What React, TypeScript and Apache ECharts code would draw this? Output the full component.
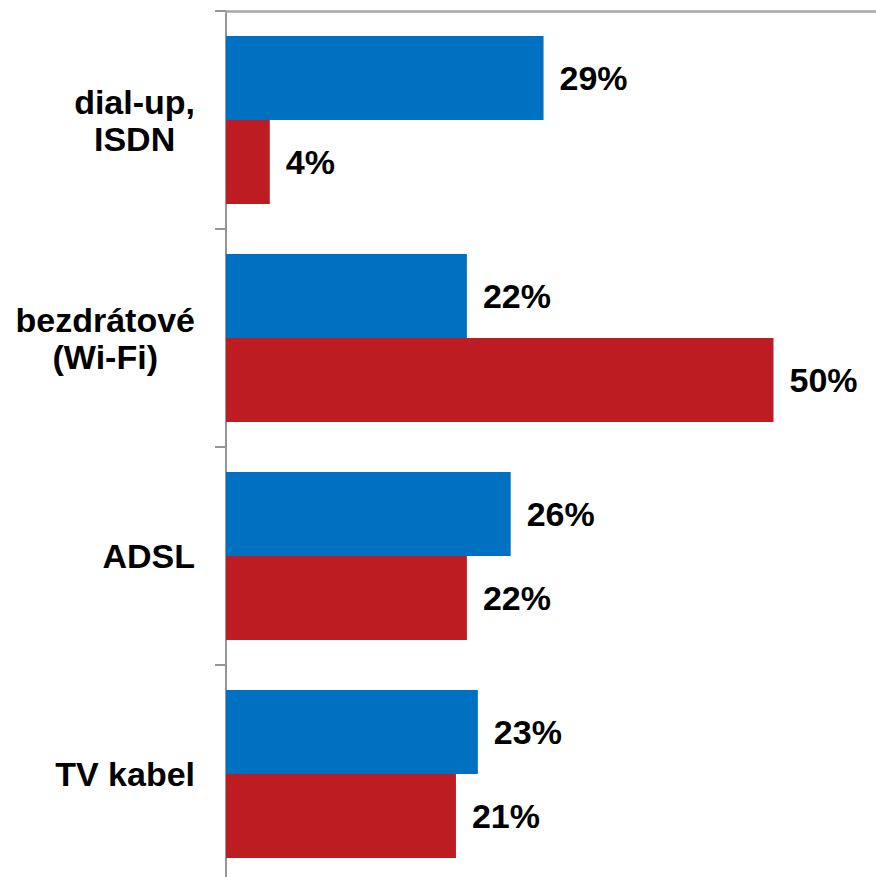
import React, { useEffect, useRef } from "react";
import * as echarts from "echarts";

const categories = ["dial-up,\nISDN", "bezdrátové\n(Wi-Fi)", "ADSL", "TV kabel"];
const blueValues = [29, 22, 26, 23];
const redValues = [4, 50, 22, 21];

const FONT = '"Liberation Sans", Arial, sans-serif';

export default function App() {
  const ref = useRef<HTMLDivElement>(null);
  useEffect(() => {
    if (!ref.current) return;
    const chart = echarts.init(ref.current, undefined, { renderer: "svg" });
    const labelCommon = {
      show: true,
      position: "right" as const,
      distance: 16,
      formatter: "{c}%",
      color: "#000",
      fontFamily: FONT,
      fontWeight: "bold" as const,
      fontSize: 34,
    };
    chart.setOption({
      animation: false,
      backgroundColor: "#fff",
      grid: {
        left: 226,
        top: 11,
        width: 657,
        height: 872,
        containLabel: false,
        outerBoundsMode: "none",
      },
      xAxis: {
        type: "value",
        position: "top",
        min: 0,
        max: 60,
        axisLine: { show: true, lineStyle: { color: "#A6A6A6", width: 2.5 } },
        axisTick: { show: false },
        axisLabel: { show: false },
        splitLine: { show: false },
      },
      yAxis: {
        type: "category",
        inverse: true,
        data: categories,
        axisLine: { show: true, lineStyle: { color: "#969696", width: 2 } },
        axisTick: { show: true, length: 11, lineStyle: { color: "#969696", width: 2 } },
        axisLabel: {
          margin: 31,
          align: "right",
          formatter: (v: string) =>
            v.split("\n").map((l) => "{c|" + l + "}").join("\n"),
          rich: {
            c: {
              align: "center",
              fontFamily: FONT,
              fontWeight: "bold",
              fontSize: 34,
              color: "#000",
              lineHeight: 37,
            },
          },
        },
      },
      series: [
        {
          type: "bar",
          data: blueValues,
          barWidth: 84,
          barGap: "0%",
          itemStyle: { color: "#0070C0" },
          label: labelCommon,
        },
        {
          type: "bar",
          data: redValues,
          barWidth: 84,
          barGap: "0%",
          itemStyle: { color: "#BE1C23" },
          label: labelCommon,
        },
      ],
    });
    return () => chart.dispose();
  }, []);
  return (
    <div
      ref={ref}
      style={{ position: "fixed", left: 0, top: 0, width: 876, height: 877 }}
    />
  );
}
